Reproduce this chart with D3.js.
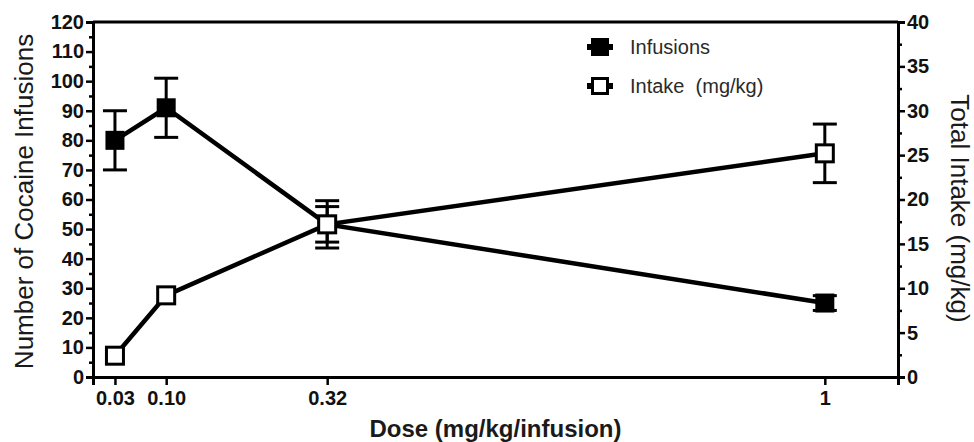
<!DOCTYPE html>
<html>
<head>
<meta charset="utf-8">
<script src="https://cdn.jsdelivr.net/npm/d3@7"></script>
<style>
  body { margin: 0; background: #fff; }
  text { font-family: "Liberation Sans", Arial, sans-serif; }
</style>
</head>
<body>
<div id="chart"></div>
<script>
// values
const doses = [0.03, 0.10, 0.32, 1];
const infusions = [80, 91, 51.6, 25];
const infusionsErr = [10, 10, 8, 2.5];
const intake = [2.4, 9.2, 17.2, 25.2];
const intakeErr = [0, 0, 2, 3.3];
const xTicks = [0.03, 0.10, 0.32, 1];
const xTickLabels = ['0.03', '0.10', '0.32', '1'];
const leftTicks = d3.range(0, 121, 10);
const rightTicks = d3.range(0, 41, 5);
const legendNames = ['Infusions', 'Intake  (mg/kg)'];

const width = 974;
const height = 442;

const svg = d3.select('#chart')
    .append('svg')
    .attr('width', width)
    .attr('height', height);

const x = d3.scaleLinear().domain([0, 1.1]).range([93, 898]);
const yL = d3.scaleLinear().domain([0, 120]).range([377, 22]);
const yR = d3.scaleLinear().domain([0, 40]).range([377, 22]);

// top frame line
svg.append('line')
    .attr('x1', x(0)).attr('x2', x(1.1)).attr('y1', yL(120)).attr('y2', yL(120))
    .attr('stroke', '#000').attr('stroke-width', 3)

// left axis
const leftAxis = svg.append('g')
    .attr('transform', `translate(${x(0)},0)`)
    .call(d3.axisLeft(yL).tickValues(leftTicks).tickSize(7).tickPadding(2))
leftAxis.append('g')
    .call(d3.axisLeft(yL).tickValues(d3.range(5, 120, 10)).tickSize(4).tickFormat(''))

// right axis
const rightAxis = svg.append('g')
    .attr('transform', `translate(${x(1.1)},0)`)
    .call(d3.axisRight(yR).tickValues(rightTicks).tickSize(7).tickPadding(2))
rightAxis.append('g')
    .call(d3.axisRight(yR).tickValues(d3.range(2.5, 40, 5)).tickSize(4).tickFormat(''))

// bottom axis
svg.append('g')
    .attr('transform', `translate(0,${yL(0)})`)
    .call(d3.axisBottom(x).tickValues(xTicks).tickSize(8).tickPadding(6)
        .tickFormat((d, i) => xTickLabels[i]))

svg.selectAll('.domain').attr('stroke', '#000').attr('stroke-width', 3)
svg.selectAll('.tick line').attr('stroke', '#000').attr('stroke-width', 2.5)
svg.selectAll('.tick text')
    .attr('fill', '#111')
    .style('font-family', '"Liberation Sans", Arial, sans-serif')
    .style('font-weight', 'bold')
    .style('font-size', '20px')

// axis titles
svg.append('text')
    .attr('transform', `translate(33,${(yL(0) + yL(120)) / 2 + 2}) rotate(-90)`)
    .attr('text-anchor', 'middle')
    .style('font-size', '26px')
    .attr('fill', '#1a1a1a')
    .text('Number of Cocaine Infusions')

svg.append('text')
    .attr('transform', `translate(951,${(yL(0) + yL(120)) / 2 + 9}) rotate(90)`)
    .attr('text-anchor', 'middle')
    .style('font-size', '26px')
    .attr('fill', '#1a1a1a')
    .text('Total Intake (mg/kg)')

svg.append('text')
    .attr('x', (x(0) + x(1.1)) / 2)
    .attr('y', 437)
    .attr('text-anchor', 'middle')
    .style('font-size', '24px')
    .style('font-weight', 'bold')
    .attr('fill', '#1a1a1a')
    .text('Dose (mg/kg/infusion)')

// lines
const infLine = d3.line().x((d, i) => x(doses[i])).y(d => yL(d))
const intLine = d3.line().x((d, i) => x(doses[i])).y(d => yR(d))

svg.append('path').datum(infusions)
    .attr('d', infLine).attr('fill', 'none').attr('stroke', '#000').attr('stroke-width', 4.5)
svg.append('path').datum(intake)
    .attr('d', intLine).attr('fill', 'none').attr('stroke', '#000').attr('stroke-width', 4.5)

// error bars
const drawErr = (vals, errs, y) => {
    const g = svg.append('g').attr('stroke', '#000').attr('stroke-width', 3)
    vals.forEach((v, i) => {
        if (!errs[i]) return
        const cx = x(doses[i])
        g.append('line').attr('x1', cx).attr('x2', cx).attr('y1', y(v - errs[i])).attr('y2', y(v + errs[i]))
        ;[v - errs[i], v + errs[i]].forEach(e => {
            g.append('line').attr('x1', cx - 12).attr('x2', cx + 12).attr('y1', y(e)).attr('y2', y(e))
        })
    })
}
drawErr(infusions, infusionsErr, yL)
drawErr(intake, intakeErr, yR)

// markers
const sq = 19
svg.append('g').selectAll('rect')
    .data(infusions)
    .join('rect')
    .attr('x', (d, i) => x(doses[i]) - sq / 2)
    .attr('y', d => yL(d) - sq / 2)
    .attr('width', sq).attr('height', sq)
    .attr('fill', '#000')

svg.append('g').selectAll('rect')
    .data(intake)
    .join('rect')
    .attr('x', (d, i) => x(doses[i]) - (sq - 2) / 2)
    .attr('y', d => yR(d) - (sq - 2) / 2)
    .attr('width', sq - 2).attr('height', sq - 2)
    .attr('fill', '#fff')
    .attr('stroke', '#000')
    .attr('stroke-width', 3)

// legend
const legend = svg.append('g')
legendNames.forEach((name, i) => {
    const ly = 47 + i * 39
    legend.append('line').attr('x1', 587).attr('x2', 613).attr('y1', ly).attr('y2', ly)
        .attr('stroke', '#000').attr('stroke-width', 6)
    legend.append('rect')
        .attr('x', 600 - (i ? 7.5 : 9)).attr('y', ly - (i ? 7.5 : 9))
        .attr('width', i ? 15 : 18).attr('height', i ? 15 : 18)
        .attr('fill', i ? '#fff' : '#000')
        .attr('stroke', '#000').attr('stroke-width', i ? 3 : 0)
    legend.append('text')
        .attr('x', 630).attr('y', ly + 7)
        .attr('xml:space', 'preserve')
        .style('white-space', 'pre')
        .style('font-size', '20px')
        .attr('fill', '#2a2a2a')
        .text(name)
})
</script>
</body>
</html>
